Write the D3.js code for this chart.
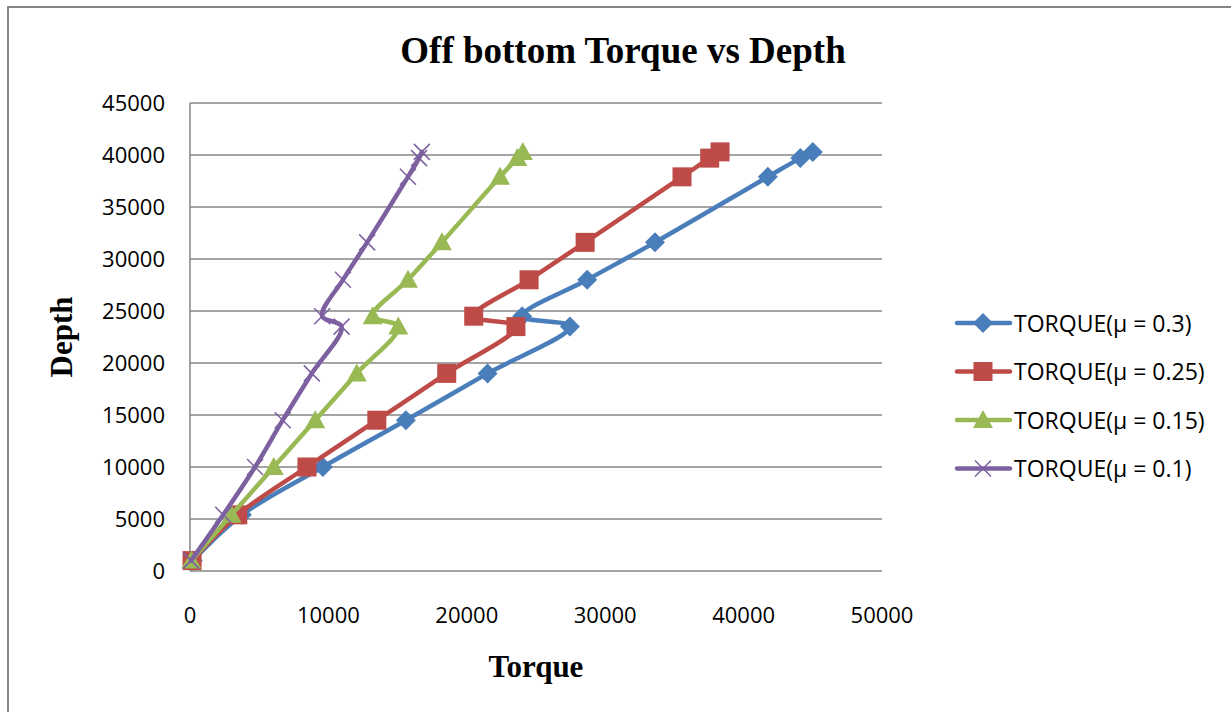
<!DOCTYPE html>
<html>
<head>
<meta charset="utf-8">
<script src="https://cdn.jsdelivr.net/npm/d3@7"></script>
<style>
  body { margin: 0; background: #fff; }
  svg { display: block; }
</style>
</head>
<body>
<div id="chart"></div>
<script>
// Off bottom torque vs depth - four friction factors
const depths = [1000, 5400, 10000, 14500, 19000, 23500, 24500, 28000, 31600, 37900, 39700, 40300];

const torque03  = [200, 3750, 9600, 15600, 21500, 27450, 24000, 28700, 33600, 41750, 44100, 45000];
const torque025 = [150, 3450, 8450, 13500, 18550, 23550, 20500, 24500, 28550, 35550, 37550, 38300];
const torque015 = [100, 3000, 6050, 9050, 12050, 15050, 13200, 15750, 18200, 22400, 23650, 24050];
const torque01  = [80, 2400, 4700, 6700, 8800, 10950, 9550, 11050, 12800, 15750, 16550, 16750];

const seriesNames = ['TORQUE(μ = 0.3)', 'TORQUE(μ = 0.25)', 'TORQUE(μ = 0.15)', 'TORQUE(μ = 0.1)'];
const xTicks = [0, 10000, 20000, 30000, 40000, 50000];
const yTicks = [0, 5000, 10000, 15000, 20000, 25000, 30000, 35000, 40000, 45000];

const series = [
  { name: seriesNames[0], values: torque03,  color: '#4a7ebb', marker: 'diamond' },
  { name: seriesNames[1], values: torque025, color: '#be4b48', marker: 'square' },
  { name: seriesNames[2], values: torque015, color: '#98b954', marker: 'triangle' },
  { name: seriesNames[3], values: torque01,  color: '#7d60a0', marker: 'x' }
];

const W = 1231, H = 712;
const plot = { left: 190, right: 882, top: 103, bottom: 571 };

const svg = d3.select('#chart').append('svg')
  .attr('width', W).attr('height', H);

// chart frame
svg.append('rect')
  .attr('x', 8).attr('y', 7)
  .attr('width', W + 20).attr('height', H + 20)
  .attr('fill', '#fff')
  .attr('stroke', '#868686').attr('stroke-width', 2);

const x = d3.scaleLinear().domain([0, 50000]).range([plot.left, plot.right]);
const y = d3.scaleLinear().domain([0, 45000]).range([plot.bottom, plot.top]);

// gridlines
svg.append('g')
  .selectAll('line')
  .data(yTicks)
  .enter().append('line')
  .attr('x1', plot.left).attr('x2', plot.right)
  .attr('y1', d => y(d)).attr('y2', d => y(d))
  .attr('stroke', '#868686').attr('stroke-width', 1.5);

// y axis line
svg.append('line')
  .attr('x1', plot.left).attr('x2', plot.left)
  .attr('y1', plot.top).attr('y2', plot.bottom)
  .attr('stroke', '#868686').attr('stroke-width', 1.5);

// tick labels
const tickFont = "'Open Sans', sans-serif";
svg.append('g')
  .selectAll('text')
  .data(yTicks)
  .enter().append('text')
  .attr('x', 165)
  .attr('y', d => y(d) + 8)
  .attr('text-anchor', 'end')
  .style('font-family', tickFont)
  .style('font-size', '22px')
  .style('fill', '#000')
  .text(d => d);

svg.append('g')
  .selectAll('text')
  .data(xTicks)
  .enter().append('text')
  .attr('x', d => x(d))
  .attr('y', 623)
  .attr('text-anchor', 'middle')
  .style('font-family', tickFont)
  .style('font-size', '22px')
  .style('fill', '#000')
  .text(d => d);

// titles
const serif = "'Liberation Serif', 'Times New Roman', serif";
svg.append('text')
  .attr('x', 623).attr('y', 63)
  .attr('text-anchor', 'middle')
  .style('font-family', serif).style('font-weight', 'bold').style('font-size', '37px')
  .text('Off bottom Torque vs Depth');

svg.append('text')
  .attr('x', 536).attr('y', 677)
  .attr('text-anchor', 'middle')
  .style('font-family', serif).style('font-weight', 'bold').style('font-size', '31px')
  .text('Torque');

svg.append('text')
  .attr('transform', 'translate(72, 337) rotate(-90)')
  .attr('text-anchor', 'middle')
  .style('font-family', serif).style('font-weight', 'bold').style('font-size', '31px')
  .text('Depth');

// markers
function drawMarker(g, type, color, size) {
  const s = size;
  if (type === 'diamond') {
    g.append('path').attr('d', `M0,${-s}L${s},0L0,${s}L${-s},0Z`).attr('fill', color);
  } else if (type === 'square') {
    g.append('rect').attr('x', -s * 0.95).attr('y', -s * 0.95)
      .attr('width', s * 1.9).attr('height', s * 1.9).attr('fill', color);
  } else if (type === 'triangle') {
    g.append('path').attr('d', `M0,${-s}L${s},${s * 0.8}L${-s},${s * 0.8}Z`).attr('fill', color);
  } else {
    g.append('path').attr('d', `M${-s},${-s}L${s},${s}M${-s},${s}L${s},${-s}`)
      .attr('stroke', color).attr('stroke-width', 1.5).attr('fill', 'none');
  }
}

const line = d3.line()
  .x(d => x(d[0]))
  .y(d => y(d[1]))
  .curve(d3.curveCatmullRom.alpha(0.5));

const lines = svg.append('g');
series.forEach(s => {
  const pts = s.values.map((v, i) => [v, depths[i]]);
  lines.append('path')
    .datum(pts)
    .attr('d', line)
    .attr('fill', 'none')
    .attr('stroke', s.color)
    .attr('stroke-width', 4.5)
    .attr('stroke-linejoin', 'round')
    .attr('stroke-linecap', 'round');
  pts.forEach(p => {
    const g = lines.append('g').attr('transform', `translate(${x(p[0])},${y(p[1])})`);
    drawMarker(g, s.marker, s.color, s.marker === 'x' ? 8 : 10);
  });
});

// legend
const legend = svg.append('g');
series.forEach((s, i) => {
  const ly = 323 + i * 48.5;
  legend.append('line')
    .attr('x1', 957).attr('x2', 1010)
    .attr('y1', ly).attr('y2', ly)
    .attr('stroke', s.color).attr('stroke-width', 4.5)
    .attr('stroke-linecap', 'round');
  const g = legend.append('g').attr('transform', `translate(983,${ly})`);
  drawMarker(g, s.marker, s.color, s.marker === 'x' ? 8 : 10);
  legend.append('text')
    .attr('x', 1014).attr('y', ly + 8.5)
    .style('font-family', tickFont)
    .style('font-size', '23px')
    .style('fill', '#000')
    .text(s.name);
});
</script>
</body>
</html>
